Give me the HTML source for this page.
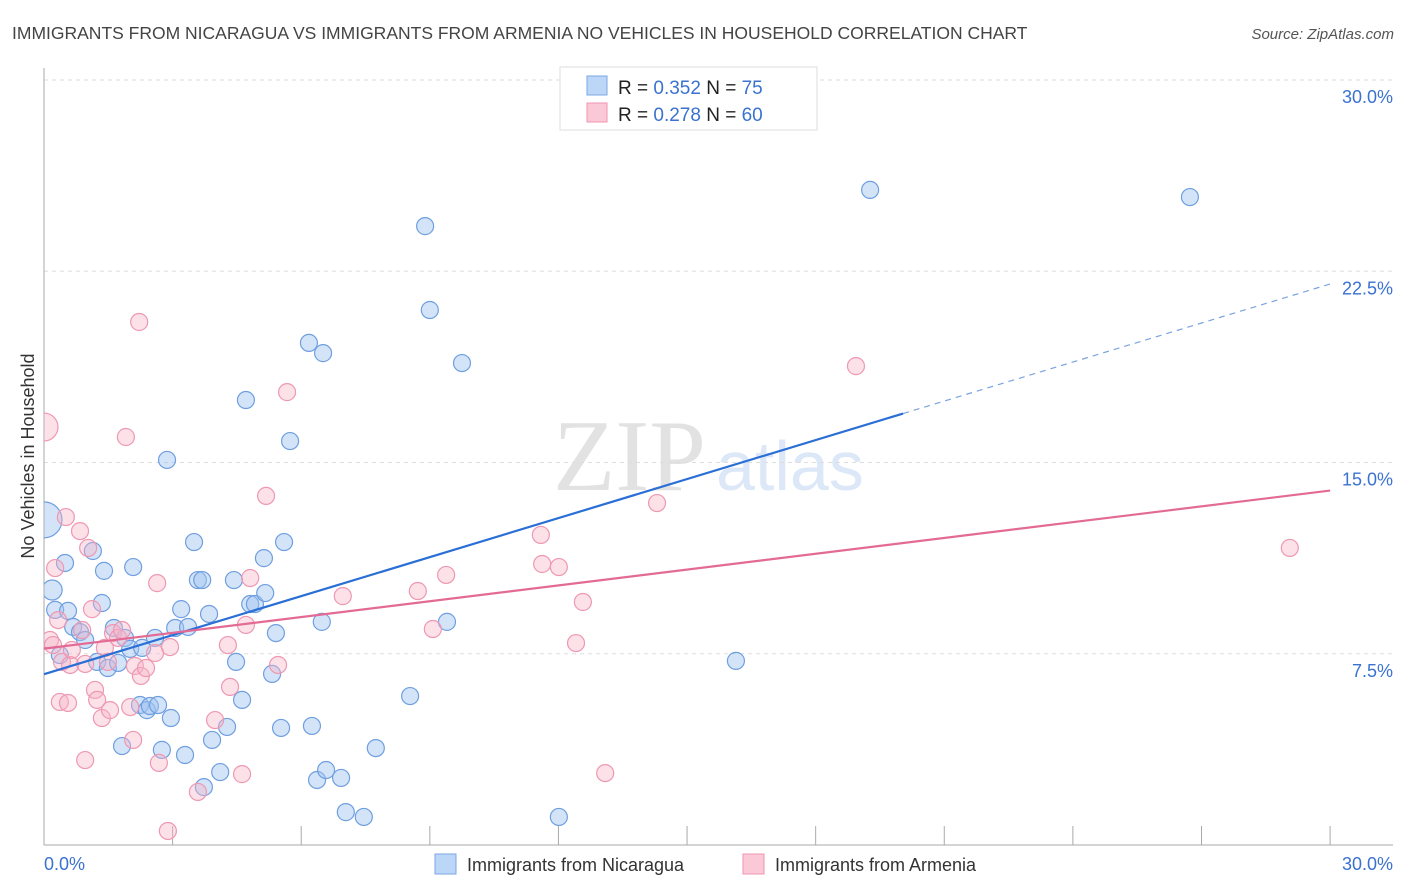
<!DOCTYPE html>
<html><head><meta charset="utf-8"><style>
body{margin:0;background:#fff;font-family:"Liberation Sans",sans-serif;}
svg{display:block}
</style></head><body>
<svg id="chart" width="1406" height="892" xmlns="http://www.w3.org/2000/svg">
<text x="12" y="39" font-size="17.5" fill="#444">IMMIGRANTS FROM NICARAGUA VS IMMIGRANTS FROM ARMENIA NO VEHICLES IN HOUSEHOLD CORRELATION CHART</text>
<text x="1394" y="39" font-size="15" fill="#555" font-style="italic" text-anchor="end">Source: ZipAtlas.com</text>
<g>
<text x="553" y="490" font-family="Liberation Serif,serif" font-size="102" fill="#e2e2e2">ZIP</text>
<text x="716" y="490" font-size="70" fill="#dce8f7">atlas</text>
</g>
<g id="grid"></g>
<g id="axes"></g>
<defs><clipPath id="pc"><rect x="44" y="60" width="1360" height="786"/></clipPath></defs>
<g id="pts" clip-path="url(#pc)"></g>
<g id="lines"></g>
<text transform="translate(34,456) rotate(-90)" font-size="18" fill="#333" text-anchor="middle">No Vehicles in Household</text>
<g>
<rect x="560" y="67" width="257" height="63" fill="#fff" stroke="#ddd"/>
<rect x="587" y="76" width="20" height="19" fill="#bcd6f7" stroke="#7aa7e6"/>
<rect x="587" y="103" width="20" height="19" fill="#fbc8d7" stroke="#ef94b0"/>
<text x="618" y="94" font-size="19" fill="#222">R = <tspan fill="#3a72d0">0.352</tspan>   N = <tspan fill="#3a72d0"> 75</tspan></text>
<text x="618" y="121" font-size="19" fill="#222">R = <tspan fill="#3a72d0">0.278</tspan>   N = <tspan fill="#3a72d0">60</tspan></text>
</g>
<g>
<rect x="435" y="854" width="21" height="20" fill="#bcd6f7" stroke="#7aa7e6"/>
<text x="467" y="871" font-size="18" fill="#333">Immigrants from Nicaragua</text>
<rect x="743" y="854" width="21" height="20" fill="#fbc8d7" stroke="#ef94b0"/>
<text x="775" y="871" font-size="18" fill="#333">Immigrants from Armenia</text>
</g>
</svg>
<script>
const blueX=[0,0.19,0.26,0.49,0.56,0.37,0.68,0.84,0.96,1.14,1.24,1.35,1.40,1.49,1.63,1.73,1.82,1.89,2.01,2.08,2.24,2.29,2.40,2.47,2.59,2.66,2.75,2.87,2.96,3.06,3.20,3.29,3.36,3.50,3.59,3.69,3.73,3.85,3.92,4.11,4.27,4.43,4.48,4.62,4.71,4.81,4.92,5.16,5.13,5.32,5.41,5.53,5.60,5.74,6.18,6.25,6.37,6.48,6.51,6.58,6.93,7.04,7.46,7.74,8.54,8.89,9.00,9.40,9.75,12.01,16.14,19.27,26.73];
const blueY=[12.75,10.0,9.22,11.06,9.18,7.45,8.55,8.35,8.04,11.53,7.18,9.49,10.75,6.94,8.51,7.14,3.88,8.12,7.69,10.9,5.49,7.73,5.29,5.45,8.12,5.49,3.73,15.1,4.98,8.51,9.25,3.53,8.55,11.88,10.39,10.39,2.27,9.06,4.12,2.86,4.63,10.39,7.18,5.69,17.45,9.45,9.45,9.88,11.25,6.71,8.31,4.59,11.88,15.84,19.69,4.67,2.55,8.75,19.29,2.94,2.63,1.29,1.10,3.80,5.84,24.27,20.98,8.75,18.9,1.10,7.22,25.69,25.41];
const blueR=[18,10];
const pinkX=[0,0.14,0.21,0.26,0.33,0.42,0.51,0.37,0.56,0.61,0.65,0.84,0.89,0.96,1.03,1.12,1.19,1.24,1.35,1.42,1.49,1.54,1.61,1.73,1.82,1.91,2.01,2.08,2.12,2.22,2.26,2.38,2.59,2.64,2.68,2.89,2.94,3.59,3.99,4.29,4.34,4.62,4.71,4.81,5.18,5.46,5.67,6.97,8.72,9.07,9.38,11.59,11.62,12.01,12.41,12.57,13.09,14.30,18.94,29.06,0.96];
const pinkY=[16.39,8.04,7.84,10.86,8.82,7.18,12.86,5.61,5.57,7.06,7.65,12.31,8.43,7.10,11.65,9.25,6.08,5.69,4.98,7.73,7.18,5.29,8.31,8.12,8.43,16.0,5.41,4.12,7.02,20.51,6.63,6.94,7.53,10.27,3.22,0.55,7.76,2.08,4.90,7.84,6.20,2.78,8.63,10.47,13.69,7.06,17.76,9.76,9.96,8.47,10.59,12.16,11.02,10.90,7.92,9.53,2.82,13.41,18.78,11.65,3.33];
const blueTrend=[6.7,22.0];
const pinkTrend=[7.7,13.9];
const yTicks=[7.5,15.0,22.5,30.0];
const xTicks=[0,3,6,9,12,15,18,21,24,27,30];
const NS="http://www.w3.org/2000/svg";
const sx=v=>44+v*42.87, sy=v=>845-v*25.5;
function mk(tag,at,parent){const e=document.createElementNS(NS,tag);for(const k in at)e.setAttribute(k,at[k]);document.getElementById(parent).appendChild(e);return e;}
yTicks.forEach(t=>{
 const l=mk('line',{x1:44,x2:1393,y1:sy(t),y2:sy(t),stroke:'#ddd','stroke-dasharray':'4,4'},'grid');
 
 
 const tx=mk('text',{x:1393,y:sy(t)+23,'font-size':18,fill:'#3a72d0','text-anchor':'end'},'grid');
 tx.textContent=t.toFixed(1)+'%';
 
 
});
mk('line',{x1:44,x2:44,y1:68,y2:845,stroke:'#aaa'},'axes');
mk('line',{x1:44,x2:1393,y1:845,y2:845,stroke:'#aaa'},'axes');
xTicks.forEach(t=>{const l=mk('line',{x1:sx(t),x2:sx(t),y1:826,y2:845,stroke:'#aaa'},'axes');
 
 });
const x0=mk('text',{x:44,y:870,'font-size':18,fill:'#3a72d0'},'axes');x0.textContent=xTicks[0].toFixed(1)+'%';


const x1=mk('text',{x:1393,y:870,'font-size':18,fill:'#3a72d0','text-anchor':'end'},'axes');x1.textContent=xTicks[xTicks.length-1].toFixed(1)+'%';


blueX.forEach((x,i)=>{const c=mk('circle',{cx:sx(x),cy:sy(blueY[i]),r:blueR[i]||8.5,fill:'rgba(160,196,240,0.45)',stroke:'#6f9fe0','stroke-width':1.2},'pts');
 
 });
pinkX.forEach((x,i)=>{const c=mk('circle',{cx:sx(x),cy:sy(pinkY[i]),r:i===0?14:8.5,fill:'rgba(248,180,200,0.4)',stroke:'#ee98b2','stroke-width':1.2},'pts');
 
 });
const bAt=x=>blueTrend[0]+(blueTrend[1]-blueTrend[0])*x/30;
const bl=mk('line',{x1:sx(0),y1:sy(bAt(0)),x2:sx(20.04),y2:sy(bAt(20.04)),stroke:'#2a6fd6','stroke-width':2.2},'lines');


const bd=mk('line',{x1:sx(20.04),y1:sy(bAt(20.04)),x2:sx(30),y2:sy(bAt(30)),stroke:'#7aa3e0','stroke-width':1.2,'stroke-dasharray':'6,5'},'lines');


const pl=mk('line',{x1:sx(0),y1:sy(pinkTrend[0]),x2:sx(30),y2:sy(pinkTrend[1]),stroke:'#e36a94','stroke-width':2.2},'lines');


</script>
</body></html>
